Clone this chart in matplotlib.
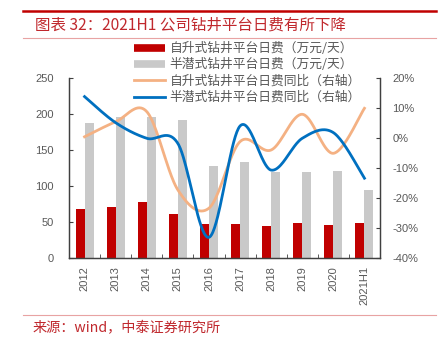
import matplotlib
matplotlib.use('Agg')
import matplotlib.pyplot as plt
from matplotlib.lines import Line2D
import numpy as np

plt.rcParams['font.family'] = ['Noto Sans CJK SC', 'DejaVu Sans']

# === 数据 ===
years = ['2012', '2013', '2014', '2015', '2016', '2017', '2018', '2019', '2020', '2021H1']
jackup_rate = [68, 71, 78, 61, 47, 47, 45, 48, 46, 49]            # 自升式 日费（万元/天）
semi_rate = [187, 196, 196, 192, 128, 133, 119, 120, 121, 94]     # 半潜式 日费（万元/天）
jackup_yoy = [0.4, 5.4, 8.8, -17.3, -23.4, -1.2, -4.0, 7.9, -5.1, 9.9]     # %
semi_yoy = [13.8, 5.1, -0.1, -1.8, -33.1, 4.0, -10.7, -0.1, 1.8, -13.4]    # %

# === 配色 ===
RED = '#C00000'
GRAY = '#C9C9C9'
ORANGE = '#F4B183'
BLUE = '#0070C0'
TXT = '#595959'
TITLE_RED = '#C0282D'
PINK = '#E8A3A3'


def smooth(xs, ys, n=40):
    # Excel 风格平滑线（Catmull-Rom -> Bezier）
    p = np.column_stack([xs, ys]).astype(float)
    p = np.vstack([p[0], p, p[-1]])
    out = []
    for i in range(1, len(p) - 2):
        p0, p1, p2, p3 = p[i - 1], p[i], p[i + 1], p[i + 2]
        c1 = p1 + (p2 - p0) / 6
        c2 = p2 - (p3 - p1) / 6
        t = np.linspace(0, 1, n)[:, None]
        seg = ((1 - t) ** 3) * p1 + 3 * ((1 - t) ** 2) * t * c1 + 3 * (1 - t) * t ** 2 * c2 + t ** 3 * p2
        out.append(seg)
    out = np.vstack(out)
    return out[:, 0], out[:, 1]


fig = plt.figure(figsize=(4.42, 3.38), dpi=100)
fig.patch.set_facecolor('white')

# === 标题与框线 ===
fig.add_artist(Line2D([23 / 442, 436 / 442], [1 - 11 / 338] * 2, color=RED, lw=1.8))
fig.text(35 / 442, 1 - 25 / 338, '图表 32：2021H1 公司钻井平台日费有所下降',
         fontsize=11.2, color=TITLE_RED, ha='left', va='center')
fig.add_artist(Line2D([23 / 442, 436 / 442], [1 - 38 / 338] * 2, color=PINK, lw=0.8))
fig.add_artist(Line2D([23 / 442, 436 / 442], [1 - 315 / 338] * 2, color=PINK, lw=0.8))
fig.text(33 / 442, 1 - 328 / 338, '来源：wind，中泰证券研究所',
         fontsize=10.2, color=TITLE_RED, ha='left', va='center')

# === 主图 ===
ax = fig.add_axes([69 / 442, 80 / 338, 311 / 442, 180 / 338])
x = np.arange(len(years))
w = 0.29
ax.bar(x - w / 2, jackup_rate, w, color=RED, zorder=2)
ax.bar(x + w / 2, semi_rate, w, color=GRAY, zorder=2)
ax.set_xlim(-0.5, len(years) - 0.5)
ax.set_ylim(0, 250)
ax.set_yticks(np.arange(0, 251, 50))
ax.set_xticks(x)
ax.set_xticklabels(years, rotation=90, family=['Liberation Sans'], fontsize=8, color=TXT)
ax.set_xticks(np.arange(-0.5, len(years), 1), minor=True)
ax.tick_params(axis='x', which='major', length=0, pad=6)
ax.tick_params(axis='x', which='minor', direction='in', length=3, color='#404040')
ax.tick_params(axis='y', direction='in', length=3, pad=11, labelsize=8, labelcolor=TXT, color='#404040')
for lab in ax.get_yticklabels():
    lab.set_family(['Liberation Sans'])

ax2 = ax.twinx()
xs, ys = smooth(x, jackup_yoy)
ax2.plot(xs, ys, color=ORANGE, lw=2, zorder=3)
xs, ys = smooth(x, semi_yoy)
ax2.plot(xs, ys, color=BLUE, lw=2, zorder=4)
ax2.set_ylim(-40, 20)
ax2.set_yticks(np.arange(-40, 21, 10))
ax2.set_yticklabels([f'{v}%' for v in range(-40, 21, 10)], family=['Liberation Sans'])
ax2.tick_params(axis='y', direction='in', length=3, pad=9, labelsize=8, labelcolor=TXT, color='#404040')
ax2.set_xlim(-0.5, len(years) - 0.5)

for a in (ax, ax2):
    a.spines['top'].set_visible(False)
    for s in ('left', 'right', 'bottom'):
        a.spines[s].set_color('#404040')
        a.spines[s].set_linewidth(0.9)
    a.set_facecolor('none')

# === 图例 ===
handles = [
    Line2D([0], [0], color=RED, lw=5.5, solid_capstyle='butt'),
    Line2D([0], [0], color=GRAY, lw=5.5, solid_capstyle='butt'),
    Line2D([0], [0], color=ORANGE, lw=2),
    Line2D([0], [0], color=BLUE, lw=2),
]
labels = ['自升式钻井平台日费（万元/天）', '半潜式钻井平台日费（万元/天）',
          '自升式钻井平台日费同比（右轴）', '半潜式钻井平台日费同比（右轴）']
leg = fig.legend(handles, labels, loc='upper left', bbox_to_anchor=(134 / 442, 1 - 42 / 338),
                 frameon=False, fontsize=9.2, handlelength=2.4, handletextpad=0.4,
                 labelspacing=0.26, borderaxespad=0, borderpad=0)
for t in leg.get_texts():
    t.set_color(TXT)

fig.savefig('out.png', dpi=100, facecolor='white')
plt.close()
